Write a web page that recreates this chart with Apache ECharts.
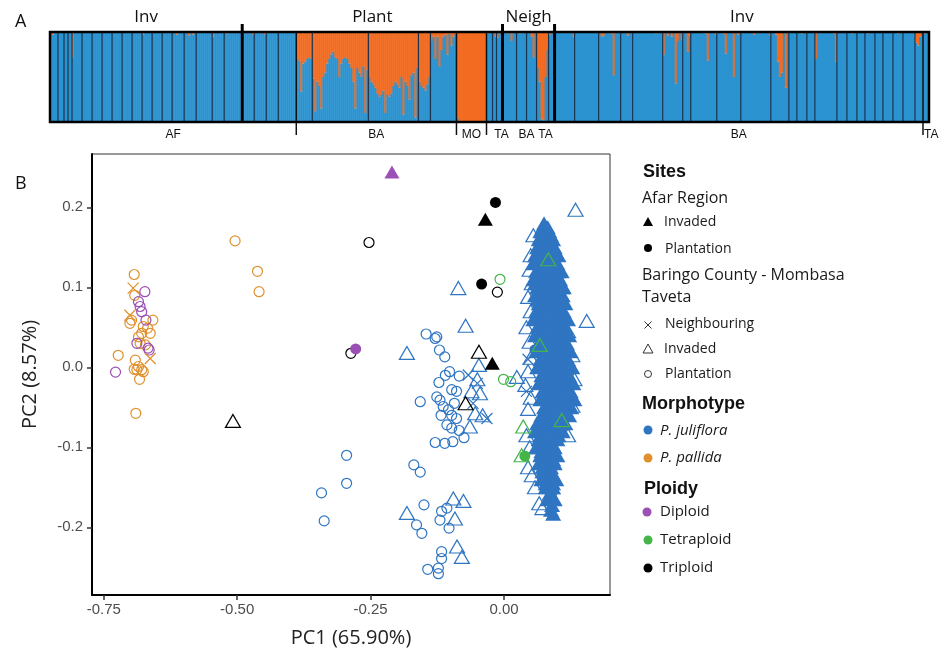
<!DOCTYPE html>
<html><head><meta charset="utf-8">
<script src="https://cdn.jsdelivr.net/npm/echarts@6.0.0/dist/echarts.min.js"></script>
<style>html,body{margin:0;padding:0;background:#fff}#c{width:948px;height:652px}</style>
</head><body><div id="c"></div>
<script>
// ================= Panel A: orange-cluster ancestry per individual, grouped by population =================
const invAF = [
  [0,0.03,0,0],[0,0,0],[0,0],[0,0],[0.28,0,0,0,0],[0,0,0,0,0],[0,0,0,0,0],[0,0,0,0,0],
  [0,0,0,0,0],[0,0,0,0,0],[0,0,0,0,0],[0.03,0,0,0,0],[0,0,0,0,0],[0,0,0,0,0],
  [0,0,0.03,0,0,0],[0,0,0.04,0,0.03,0],[0,0,0,0,0,0,0,0],[0.05,0,0,0,0,0],[0,0.02,0,0,0,0,0,0,0]
];
const plantAF = [[0,0,0,0,0,0.03],[0,0,0,0,0,0.03],[0,0,0,0,0,0],[0,0,0,0,0,0,0,0,0]];
const plantBA = [
  [0.30,0.32,0.66,0.35,0.33,0.30,0.28,0.30],
  [0.52,0.88,0.55,0.60,0.85,0.50,0.45,0.35,0.30,0.25,0.22,0.28,0.30,0.50,0.35,0.30,0.28,0.30,0.35,0.40,0.55,0.85,0.40,0.45,0.50,0.38,0.90,0.42],
  [0.50,0.55,0.58,0.62,0.68,0.72,0.70,0.65,0.90,0.70,0.72,0.68,0.60,0.55,0.58,0.62,0.50,0.92,0.55,0.60,0.75,0.48,0.45,0.95,0.40],
  [0.55,0.60,0.62,0.65,0.58,0.50],
  [0.10,0.05,0.30,0.05,0.38,0.20,0.05,0.03,0.25,0.02,0.15,0.05,0.02]
];
const plantMO = [[0.95,0.99,1,1,1,1,1,1,1,1,1,1,1,1,0.98]];
const plantTA = [[0.02,0,0],[0,0.05],[0.06,0,0.02]];
const neighTA = [[0,0,0.02,0,0.10,0,0]];
const neighBA = [[0,0.02,0,0,0],[0,0,0.05,0.28,0]];
const neighTA2 = [[0.40,0.55,0.97,0.98,0.50,0.20],[0.03,0,0.02]];
const invBA = [
  [0,0,0,0,0,0,0,0,0,0.05],[0,0,0,0,0,0,0,0,0,0,0,0],[0,0.05,0.04,0,0,0,0.02,0.48,0,0,0],
  [0,0,0,0.04,0,0],[0,0,0,0,0,0,0,0,0,0,0,0.02,0,0,0],[0.25,0,0.04,0,0.05,0,0.57,0.10,0,0.08],
  [0,0,0.22,0.04],[0,0,0,0,0,0,0,0.02,0.32,0,0,0,0.03],[0,0,0,0.02,0.24,0,0,0,0.50,0,0.03,0],
  [0,0,0,0,0,0,0.03,0,0,0,0,0,0,0,0.04],[0,0,0.03,0.33,0.50,0.45,0,0.62,0],[0,0,0,0],
  [0,0,0.02,0,0],[0,0,0,0],[0.30,0,0,0,0,0,0,0,0,0.02,0.33],[0,0,0,0,0],[0,0,0.02,0,0],
  [0,0,0,0],[0,0.02,0,0,0],[0,0,0,0],[0,0,0,0,0],[0,0,0.02,0,0],[0,0,0,0,0,0],[0.12,0.15,0.05,0]
];
const invTA = [[0.02,0,0]];
const blocks = [invAF, plantAF, plantBA, plantMO, plantTA, neighTA, neighBA, neighTA2, invBA, invTA];
const blockRegion = ['Inv','Plant','Plant','Plant','Plant','Neigh','Neigh','Neigh','Inv','Inv'];
const blockSite = ['AF','AF','BA','MO','TA','TA','BA','TA','BA','TA'];
const tickBlocks = [2,3,4,9];

// ================= Panel B: PCA scores [PC1, PC2] =================
const xTicks = [-0.75,-0.5,-0.25,0];
const yTicks = [-0.2,-0.1,0,0.1,0.2];
const pallidaPlantation = [[-0.504,0.158],[-0.462,0.120],[-0.459,0.0945],[-0.693,0.116],[-0.723,0.015],[-0.690,-0.0575],
  [-0.692,0.090],[-0.698,0.059],[-0.701,0.055],[-0.658,0.059],[-0.676,0.051],[-0.679,0.0425],[-0.663,0.0425],[-0.685,0.038],
  [-0.672,0.028],[-0.691,0.009],[-0.685,0.001],[-0.688,-0.003],[-0.679,-0.003],[-0.676,-0.0055],[-0.683,-0.015],
  [-0.693,-0.0025],[-0.668,0.049],[-0.682,0.030]];
const pallidaNeighbouring = [[-0.695,0.099],[-0.701,0.065],[-0.663,0.011]];
const diploidPlantation = [[-0.673,0.0945],[-0.685,0.082],[-0.682,0.076],[-0.679,0.0695],[-0.671,0.059],[-0.688,0.030],
  [-0.667,0.024],[-0.665,0.0216],[-0.728,-0.006]];
const diploidAfarInvaded = [[-0.210,0.244]];
const diploidAfarPlantation = [[-0.278,0.023]];
const juliPlantation = [[-0.146,0.0416],[-0.129,0.036],[-0.126,0.038],[-0.121,0.0216],[-0.111,0.013],[-0.102,-0.0055],
  [-0.084,-0.011],[-0.122,-0.019],[-0.098,-0.028],[-0.089,-0.030],[-0.126,-0.037],[-0.120,-0.041],[-0.157,-0.043],
  [-0.114,-0.049],[-0.104,-0.053],[-0.098,-0.060],[-0.089,-0.064],[-0.107,-0.072],[-0.098,-0.076],[-0.084,-0.079],
  [-0.075,-0.088],[-0.129,-0.094],[-0.111,-0.095],[-0.096,-0.093],[-0.295,-0.110],[-0.295,-0.145],[-0.342,-0.157],
  [-0.337,-0.192],[-0.169,-0.122],[-0.157,-0.131],[-0.150,-0.172],[-0.117,-0.180],[-0.107,-0.176],[-0.120,-0.191],
  [-0.164,-0.197],[-0.154,-0.2075],[-0.103,-0.201],[-0.117,-0.2305],[-0.117,-0.239],[-0.143,-0.2525],[-0.123,-0.251],
  [-0.123,-0.258],[-0.110,-0.010],[-0.118,-0.060],[-0.093,-0.045]];
const juliInvaded = [[-0.0856,0.099],[-0.072,0.052],[-0.182,0.018],[0.024,-0.012],[-0.047,0.003],[-0.061,-0.030],
  [-0.045,-0.0325],[-0.064,-0.074],[-0.054,-0.0575],[-0.182,-0.182],[-0.095,-0.164],[-0.076,-0.167],[-0.092,-0.189],
  [-0.088,-0.224],[-0.079,-0.237],[-0.050,-0.015],[-0.040,-0.060],
  [0.055,0.165],[0.050,0.140],[0.048,0.122],[0.052,0.105],[0.045,0.088],[0.050,0.070],[0.042,0.050],[0.048,0.032],
  [0.050,0.012],[0.045,-0.005],[0.040,-0.022],[0.050,-0.038],[0.045,-0.052],[0.042,-0.085],[0.048,-0.100],
  [0.045,-0.125],[0.052,-0.135],[0.058,-0.150],[0.066,-0.170],[0.072,-0.176],[0.100,0.120],[0.108,0.100],
  [0.120,0.045],[0.128,0.015],[0.132,-0.015],[0.128,-0.048],[0.120,-0.085],[0.090,-0.150],[0.134,0.197],[0.155,0.058]];
const juliNeighbouring = [[-0.067,-0.0096],[-0.032,-0.064],[-0.050,-0.020],[-0.058,-0.045],[0.045,0.010],[0.042,-0.030]];
const juliAfarInvaded = [[0.075,0.180],[0.068,0.170],[0.085,0.170],[0.065,0.160],[0.080,0.160],[0.092,0.160],
  [0.062,0.150],[0.078,0.150],[0.095,0.150],[0.058,0.140],[0.075,0.140],[0.090,0.140],[0.102,0.140],
  [0.055,0.130],[0.070,0.130],[0.088,0.130],[0.100,0.130],[0.060,0.120],[0.078,0.120],[0.095,0.120],[0.108,0.120],
  [0.055,0.110],[0.072,0.110],[0.090,0.110],[0.105,0.110],[0.062,0.100],[0.080,0.100],[0.098,0.100],[0.112,0.100],
  [0.058,0.090],[0.075,0.090],[0.092,0.090],[0.110,0.090],[0.065,0.080],[0.082,0.080],[0.100,0.080],[0.115,0.080],
  [0.060,0.070],[0.078,0.070],[0.095,0.070],[0.112,0.070],[0.055,0.060],[0.072,0.060],[0.090,0.060],[0.108,0.060],[0.120,0.060],
  [0.062,0.050],[0.080,0.050],[0.098,0.050],[0.115,0.050],[0.058,0.040],[0.075,0.040],[0.092,0.040],[0.110,0.040],[0.122,0.040],
  [0.065,0.030],[0.082,0.030],[0.100,0.030],[0.118,0.030],[0.060,0.020],[0.078,0.020],[0.095,0.020],[0.112,0.020],[0.125,0.020],
  [0.068,0.010],[0.085,0.010],[0.102,0.010],[0.120,0.010],[0.062,0.000],[0.080,0.000],[0.098,0.000],[0.115,0.000],[0.128,0.000],
  [0.070,-0.010],[0.088,-0.010],[0.105,-0.010],[0.122,-0.010],[0.065,-0.020],[0.082,-0.020],[0.100,-0.020],[0.118,-0.020],[0.130,-0.020],
  [0.072,-0.030],[0.090,-0.030],[0.108,-0.030],[0.125,-0.030],[0.068,-0.040],[0.085,-0.040],[0.102,-0.040],[0.120,-0.040],[0.132,-0.040],
  [0.075,-0.050],[0.092,-0.050],[0.110,-0.050],[0.126,-0.050],[0.070,-0.060],[0.088,-0.060],[0.105,-0.060],[0.122,-0.060],
  [0.062,-0.070],[0.080,-0.070],[0.098,-0.070],[0.115,-0.070],[0.058,-0.080],[0.075,-0.080],[0.092,-0.080],[0.110,-0.080],
  [0.065,-0.090],[0.082,-0.090],[0.100,-0.090],[0.060,-0.100],[0.078,-0.100],[0.095,-0.100],
  [0.068,-0.110],[0.085,-0.110],[0.100,-0.110],[0.065,-0.120],[0.080,-0.120],[0.095,-0.120],
  [0.072,-0.130],[0.088,-0.130],[0.070,-0.140],[0.085,-0.140],[0.098,-0.140],[0.078,-0.150],[0.092,-0.150],
  [0.082,-0.165],[0.095,-0.165],[0.088,-0.178],
  [0.072,0.175],[0.082,0.175],[0.072,0.165],[0.088,0.165],[0.070,0.155],[0.087,0.155],[0.066,0.145],[0.083,0.145],[0.097,0.145],
  [0.062,0.135],[0.080,0.135],[0.095,0.135],[0.066,0.125],[0.085,0.125],[0.102,0.125],[0.064,0.115],[0.082,0.115],[0.100,0.115],
  [0.058,0.105],[0.072,0.105],[0.090,0.105],[0.106,0.105],[0.068,0.095],[0.085,0.095],[0.102,0.095],
  [0.062,0.085],[0.078,0.085],[0.095,0.085],[0.110,0.085],[0.070,0.075],[0.088,0.075],[0.105,0.075],
  [0.064,0.065],[0.082,0.065],[0.100,0.065],[0.115,0.065],[0.068,0.055],[0.088,0.055],[0.106,0.055],
  [0.065,0.045],[0.085,0.045],[0.102,0.045],[0.118,0.045],[0.070,0.035],[0.090,0.035],[0.108,0.035],
  [0.068,0.025],[0.088,0.025],[0.105,0.025],[0.120,0.025],[0.075,0.015],[0.095,0.015],[0.112,0.015],
  [0.070,0.005],[0.090,0.005],[0.108,0.005],[0.122,0.005],[0.076,-0.005],[0.096,-0.005],[0.113,-0.005],
  [0.072,-0.015],[0.092,-0.015],[0.110,-0.015],[0.125,-0.015],[0.078,-0.025],[0.098,-0.025],[0.116,-0.025],
  [0.076,-0.035],[0.095,-0.035],[0.112,-0.035],[0.127,-0.035],[0.080,-0.045],[0.100,-0.045],[0.118,-0.045],
  [0.080,-0.055],[0.098,-0.055],[0.115,-0.055],[0.072,-0.065],[0.090,-0.065],[0.108,-0.065],
  [0.068,-0.075],[0.088,-0.075],[0.105,-0.075],[0.068,-0.085],[0.085,-0.085],[0.102,-0.085],
  [0.072,-0.095],[0.090,-0.095],[0.070,-0.105],[0.088,-0.105],[0.075,-0.115],[0.092,-0.115],
  [0.072,-0.125],[0.088,-0.125],[0.078,-0.135],[0.092,-0.135],[0.078,-0.145],[0.092,-0.145],
  [0.085,-0.158],[0.090,-0.172],[0.092,-0.183]];
const juliAfarPlantation = [[0.089,-0.158],[0.058,0.022],[0.070,-0.112]];
const triPlantation = [[-0.253,0.156],[-0.0125,0.094],[-0.287,0.0175]];
const triInvaded = [[-0.508,-0.067],[-0.047,0.0195],[-0.072,-0.045]];
const triAfarInvaded = [[-0.035,0.185],[-0.022,0.005]];
const triAfarPlantation = [[-0.016,0.206],[-0.042,0.104]];
const tetraPlantation = [[-0.0075,0.110],[-0.001,-0.015],[0.0125,-0.018]];
const tetraInvaded = [[0.036,-0.074],[0.033,-0.110],[0.083,0.135],[0.067,0.028],[0.108,-0.066]];
const tetraAfarPlantation = [[0.039,-0.111]];

// ================= build =================
const BLUE_S = '#2b93d0', ORANGE_S = '#f26b21';
const C_JULI = '#2f75c2', C_PAL = '#e0912e', C_DIP = '#9b50b5', C_TET = '#45b549', C_TRI = '#000000';

const indiv = [], dividers = [], regionSpans = [], siteSpans = [];
let idx = 0;
blocks.forEach((pops, b) => {
  const start = idx;
  if (b > 0) {
    if (blockRegion[b] !== blockRegion[b-1]) dividers.push([start, 1]);
    else if (tickBlocks.includes(b)) dividers.push([start, 2]);
    else dividers.push([start, 0]);
  }
  pops.forEach((pop, p) => {
    if (p > 0) dividers.push([idx, 0]);
    pop.forEach(q => { indiv.push([idx, q]); idx++; });
  });
  const lr = regionSpans[regionSpans.length-1];
  if (lr && lr.name === blockRegion[b]) lr.end = idx; else regionSpans.push({name: blockRegion[b], start, end: idx});
  const ls = siteSpans[siteSpans.length-1];
  if (ls && ls.name === blockSite[b]) ls.end = idx; else siteSpans.push({name: blockSite[b], start, end: idx});
});
const N = idx;

const TXT = '"Open Sans", "DejaVu Sans", sans-serif';
const ARIAL = '"Liberation Sans", Arial, sans-serif';

function sc(name, data, symbol, size, color, filled, z) {
  return {
    type: 'scatter', name, xAxisIndex: 1, yAxisIndex: 1, data, symbol, symbolSize: size,
    silent: true, z: z || 2, animation: false,
    itemStyle: filled ? {color: color, opacity: 1} : {color: 'rgba(0,0,0,0)', borderColor: color, borderWidth: 1.2, opacity: 1}
  };
}
const CROSS = 'path://M0 0L10 10M10 0L0 10';
const TRI = [15, 13];

const chart = echarts.init(document.getElementById('c'), null, {renderer: 'canvas'});
chart.setOption({
  backgroundColor: '#ffffff',
  animation: false,
  grid: [
    {left: 50, top: 32, width: 879, height: 90, containLabel: false, outerBoundsMode: 'none'},
    {left: 92, top: 154, width: 518, height: 441, containLabel: false, outerBoundsMode: 'none',
     show: true, borderColor: '#333', borderWidth: 1, backgroundColor: 'rgba(0,0,0,0)'}
  ],
  xAxis: [
    {gridIndex: 0, type: 'value', min: 0, max: N, show: false},
    {gridIndex: 1, type: 'value', min: -0.7721, max: 0.1986,
     name: 'PC1 (65.90%)', nameLocation: 'middle', nameGap: 33,
     nameTextStyle: {fontFamily: TXT, fontSize: 20, color: '#222'},
     axisLine: {show: true, onZero: false, lineStyle: {color: '#000', width: 2}},
     axisTick: {show: true, customValues: xTicks, length: 5, lineStyle: {color: '#333', width: 1.5}},
     axisLabel: {show: true, customValues: xTicks, formatter: v => Number(v).toFixed(2), margin: 7,
       fontFamily: ARIAL, fontSize: 15, color: '#4d4d4d'},
     splitLine: {show: false}}
  ],
  yAxis: [
    {gridIndex: 0, type: 'value', min: 0, max: 1, show: false},
    {gridIndex: 1, type: 'value', min: -0.2846, max: 0.2666,
     name: 'PC2 (8.57%)', nameLocation: 'middle', nameGap: 52,
     nameTextStyle: {fontFamily: TXT, fontSize: 20, color: '#222'},
     axisLine: {show: true, onZero: false, lineStyle: {color: '#000', width: 2}},
     axisTick: {show: true, customValues: yTicks, length: 5, lineStyle: {color: '#333', width: 1.5}},
     axisLabel: {show: true, customValues: yTicks, formatter: v => Number(v).toFixed(1), margin: 9,
       fontFamily: ARIAL, fontSize: 15, color: '#4d4d4d'},
     splitLine: {show: false}}
  ],
  series: [
    { // ancestry bars
      type: 'custom', xAxisIndex: 0, yAxisIndex: 0, data: indiv, silent: true, clip: false, z: 2,
      renderItem: (params, api) => {
        const i = api.value(0), q = api.value(1);
        const b0 = api.coord([i, 0]), t1 = api.coord([i + 1, 1]), m = api.coord([i, 1 - q]);
        const x = b0[0], w = t1[0] - b0[0] + 0.5;
        return {type: 'group', children: [
          {type: 'rect', shape: {x: x, y: m[1], width: w, height: b0[1] - m[1]}, style: {fill: BLUE_S}},
          {type: 'rect', shape: {x: x, y: t1[1], width: w, height: m[1] - t1[1]}, style: {fill: ORANGE_S}}
        ]};
      }
    },
    { // population / region dividers
      type: 'custom', xAxisIndex: 0, yAxisIndex: 0, data: dividers, silent: true, clip: false, z: 3,
      renderItem: (params, api) => {
        const k = api.value(1);
        const top = api.coord([api.value(0), 1]), bot = api.coord([api.value(0), 0]);
        if (k === 1) return {type: 'line', shape: {x1: top[0], y1: top[1] - 8, x2: bot[0], y2: bot[1]}, style: {stroke: '#000', lineWidth: 3}};
        if (k === 2) return {type: 'line', shape: {x1: top[0], y1: top[1], x2: bot[0], y2: bot[1] + 13}, style: {stroke: '#111', lineWidth: 1.5}};
        return {type: 'line', shape: {x1: top[0], y1: top[1], x2: bot[0], y2: bot[1]}, style: {stroke: '#1b3550', lineWidth: 1.2}};
      }
    },
    { // frame of panel A
      type: 'custom', xAxisIndex: 0, yAxisIndex: 0, data: [[0, N]], silent: true, clip: false, z: 4,
      renderItem: (params, api) => {
        const a = api.coord([0, 1]), b = api.coord([api.value(1), 0]);
        return {type: 'rect', shape: {x: a[0], y: a[1], width: b[0] - a[0], height: b[1] - a[1]},
          style: {fill: 'none', stroke: '#000', lineWidth: 2.5}};
      }
    },
    { // region labels above
      type: 'custom', xAxisIndex: 0, yAxisIndex: 0, data: regionSpans.map(s => [(s.start + s.end) / 2, 1]),
      silent: true, clip: false, z: 4,
      renderItem: (params, api) => {
        const p = api.coord([api.value(0), 1]);
        return {type: 'text', x: p[0], y: p[1] - 15,
          style: {text: regionSpans[params.dataIndex].name, font: '17px ' + TXT, fill: '#111', align: 'center', verticalAlign: 'middle'}};
      }
    },
    { // site labels below
      type: 'custom', xAxisIndex: 0, yAxisIndex: 0, data: siteSpans.map(s => [(s.start + s.end) / 2, s.start, s.end - s.start]),
      silent: true, clip: false, z: 4,
      renderItem: (params, api) => {
        const narrow = api.value(2) < 5;
        const p = api.coord([narrow ? api.value(1) : api.value(0), 0]);
        return {type: 'text', x: narrow ? p[0] + 1 : p[0], y: p[1] + 13,
          style: {text: siteSpans[params.dataIndex].name, font: '12px ' + ARIAL, fill: '#111', align: narrow ? 'left' : 'center', verticalAlign: 'middle'}};
      }
    },
    sc('pallida plantation', pallidaPlantation, 'circle', 10, C_PAL, false),
    sc('diploid plantation', diploidPlantation, 'circle', 10, C_DIP, false),
    sc('pallida neighbouring', pallidaNeighbouring, CROSS, 11, C_PAL, false),
    sc('juliflora plantation', juliPlantation, 'circle', 10, C_JULI, false),
    sc('juliflora neighbouring', juliNeighbouring, CROSS, 11, C_JULI, false),
    sc('juliflora Afar invaded', juliAfarInvaded, 'triangle', [16, 14], C_JULI, true),
    sc('juliflora Afar plantation', juliAfarPlantation, 'circle', 11, C_JULI, true),
    sc('juliflora invaded', juliInvaded, 'triangle', TRI, C_JULI, false, 3),
    sc('tetraploid plantation', tetraPlantation, 'circle', 10, C_TET, false, 4),
    sc('tetraploid invaded', tetraInvaded, 'triangle', TRI, C_TET, false, 4),
    sc('tetraploid Afar plantation', tetraAfarPlantation, 'circle', 11, C_TET, true, 4),
    sc('triploid plantation', triPlantation, 'circle', 10, C_TRI, false, 4),
    sc('triploid invaded', triInvaded, 'triangle', TRI, C_TRI, false, 4),
    sc('triploid Afar invaded', triAfarInvaded, 'triangle', TRI, C_TRI, true, 4),
    sc('triploid Afar plantation', triAfarPlantation, 'circle', 11, C_TRI, true, 4),
    sc('diploid Afar invaded', diploidAfarInvaded, 'triangle', TRI, C_DIP, true, 4),
    sc('diploid Afar plantation', diploidAfarPlantation, 'circle', 11, C_DIP, true, 4)
  ],
  graphic: [
    {type: 'text', x: 15, y: 22, style: {text: 'A', font: '18px ' + TXT, fill: '#111', verticalAlign: 'middle'}},
    {type: 'text', x: 15, y: 184, style: {text: 'B', font: '18px ' + TXT, fill: '#111', verticalAlign: 'middle'}},
    // legend
    {type: 'text', x: 643, y: 172, style: {text: 'Sites', font: 'bold 18px ' + ARIAL, fill: '#111', verticalAlign: 'middle'}},
    {type: 'text', x: 642, y: 198, style: {text: 'Afar Region', font: '16px ' + TXT, fill: '#1a1a1a', verticalAlign: 'middle'}},
    {type: 'polygon', shape: {points: [[643, 226], [653, 226], [648, 217]]}, style: {fill: '#000'}},
    {type: 'text', x: 664, y: 222, style: {text: 'Invaded', font: '14px ' + TXT, fill: '#1a1a1a', verticalAlign: 'middle'}},
    {type: 'circle', shape: {cx: 648, cy: 248, r: 4}, style: {fill: '#000'}},
    {type: 'text', x: 665, y: 249, style: {text: 'Plantation', font: '14px ' + TXT, fill: '#1a1a1a', verticalAlign: 'middle'}},
    {type: 'text', x: 642, y: 275, style: {text: 'Baringo County - Mombasa', font: '16px ' + TXT, fill: '#1a1a1a', verticalAlign: 'middle'}},
    {type: 'text', x: 642, y: 297, style: {text: 'Taveta', font: '16px ' + TXT, fill: '#1a1a1a', verticalAlign: 'middle'}},
    {type: 'line', shape: {x1: 644.5, y1: 321.5, x2: 651.5, y2: 328.5}, style: {stroke: '#333', lineWidth: 1}},
    {type: 'line', shape: {x1: 651.5, y1: 321.5, x2: 644.5, y2: 328.5}, style: {stroke: '#333', lineWidth: 1}},
    {type: 'text', x: 665, y: 324, style: {text: 'Neighbouring', font: '14px ' + TXT, fill: '#1a1a1a', verticalAlign: 'middle'}},
    {type: 'polygon', shape: {points: [[643, 353], [653, 353], [648, 344]]}, style: {fill: 'none', stroke: '#333', lineWidth: 1}},
    {type: 'text', x: 664, y: 349, style: {text: 'Invaded', font: '14px ' + TXT, fill: '#1a1a1a', verticalAlign: 'middle'}},
    {type: 'circle', shape: {cx: 648, cy: 374, r: 3.5}, style: {fill: 'none', stroke: '#333', lineWidth: 1}},
    {type: 'text', x: 665, y: 374, style: {text: 'Plantation', font: '14px ' + TXT, fill: '#1a1a1a', verticalAlign: 'middle'}},
    {type: 'text', x: 642, y: 404, style: {text: 'Morphotype', font: 'bold 18px ' + ARIAL, fill: '#111', verticalAlign: 'middle'}},
    {type: 'circle', shape: {cx: 648, cy: 430, r: 4.5}, style: {fill: C_JULI}},
    {type: 'text', x: 660, y: 431, style: {text: 'P. juliflora', font: 'italic 15px ' + TXT, fill: '#1a1a1a', verticalAlign: 'middle'}},
    {type: 'circle', shape: {cx: 648, cy: 458, r: 4.5}, style: {fill: C_PAL}},
    {type: 'text', x: 660, y: 458, style: {text: 'P. pallida', font: 'italic 15px ' + TXT, fill: '#1a1a1a', verticalAlign: 'middle'}},
    {type: 'text', x: 644, y: 489, style: {text: 'Ploidy', font: 'bold 18px ' + ARIAL, fill: '#111', verticalAlign: 'middle'}},
    {type: 'circle', shape: {cx: 647, cy: 512, r: 4.5}, style: {fill: C_DIP}},
    {type: 'text', x: 660, y: 512, style: {text: 'Diploid', font: '15px ' + TXT, fill: '#1a1a1a', verticalAlign: 'middle'}},
    {type: 'circle', shape: {cx: 648, cy: 540, r: 4.5}, style: {fill: C_TET}},
    {type: 'text', x: 660, y: 540, style: {text: 'Tetraploid', font: '15px ' + TXT, fill: '#1a1a1a', verticalAlign: 'middle'}},
    {type: 'circle', shape: {cx: 648, cy: 568, r: 4.5}, style: {fill: '#000'}},
    {type: 'text', x: 660, y: 568, style: {text: 'Triploid', font: '15px ' + TXT, fill: '#1a1a1a', verticalAlign: 'middle'}}
  ]
});
</script>
</body></html>
